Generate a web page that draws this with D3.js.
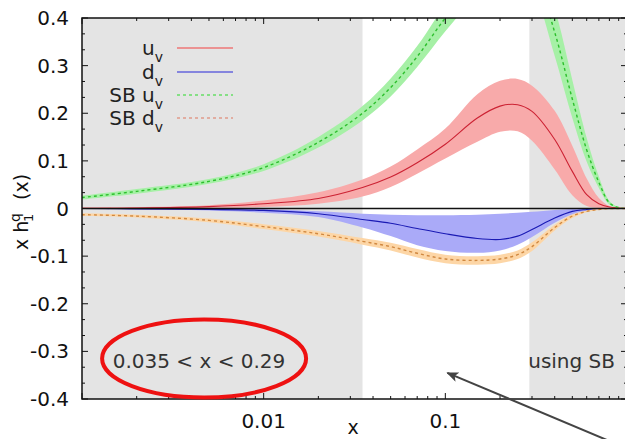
<!DOCTYPE html>
<html>
<head>
<meta charset="utf-8">
<script src="https://cdn.jsdelivr.net/npm/d3@7/dist/d3.min.js"></script>
<style>
  body { margin: 0; background: #fff; }
  svg { display: block; font-family: "DejaVu Sans", sans-serif; }
</style>
</head>
<body>
<div id="canvas"></div>
<script>
// x grid shared by all curves
const xs    = [0.001, 0.002, 0.005, 0.01, 0.02, 0.035, 0.05, 0.07, 0.1, 0.15, 0.2, 0.25, 0.3, 0.4, 0.5, 0.6, 0.7, 0.8, 0.9, 1.0];

// u_v (red)
const uv    = [0.0005, 0.001, 0.004, 0.010, 0.021, 0.044, 0.066, 0.096, 0.135, 0.190, 0.215, 0.218, 0.204, 0.145, 0.078, 0.029, 0.010, 0.003, 0.001, 0];
const uvLo  = [-0.001, 0.000, 0.001, 0.003, 0.010, 0.025, 0.045, 0.073, 0.105, 0.140, 0.161, 0.162, 0.142, 0.082, 0.028, 0.005, 0.001, 0, 0, 0];
const uvHi  = [0.002, 0.003, 0.007, 0.017, 0.034, 0.061, 0.088, 0.124, 0.168, 0.240, 0.268, 0.272, 0.258, 0.205, 0.132, 0.063, 0.022, 0.005, 0.001, 0];

// d_v (blue)
const dv    = [0, -0.001, -0.002, -0.004, -0.011, -0.023, -0.031, -0.042, -0.053, -0.063, -0.065, -0.058, -0.044, -0.020, -0.006, -0.002, 0, 0, 0, 0];
const dvLo  = [-0.001, -0.002, -0.004, -0.009, -0.018, -0.040, -0.058, -0.077, -0.089, -0.093, -0.088, -0.076, -0.060, -0.030, -0.012, -0.004, -0.001, 0, 0, 0];
const dvHi  = [0.0005, 0, -0.0005, -0.001, -0.006, -0.011, -0.013, -0.014, -0.014, -0.013, -0.011, -0.009, -0.007, -0.003, -0.001, 0, 0, 0, 0, 0];

// SB u_v (green)
const sbu   = [0.023, 0.036, 0.057, 0.086, 0.139, 0.200, 0.254, 0.319, 0.400, 0.480, 0.530, 0.540, 0.510, 0.370, 0.230, 0.123, 0.055, 0.012, 0.002, 0];
const sbuLo = [0.019, 0.031, 0.052, 0.079, 0.128, 0.185, 0.235, 0.297, 0.372, 0.450, 0.500, 0.510, 0.470, 0.320, 0.190, 0.098, 0.043, 0.008, 0.001, 0];
const sbuHi = [0.027, 0.041, 0.062, 0.093, 0.150, 0.215, 0.273, 0.341, 0.428, 0.510, 0.560, 0.570, 0.550, 0.420, 0.270, 0.148, 0.067, 0.016, 0.003, 0];

// SB d_v (orange)
const sbd   = [-0.013, -0.016, -0.025, -0.038, -0.053, -0.069, -0.080, -0.094, -0.106, -0.109, -0.106, -0.097, -0.080, -0.040, -0.016, -0.006, -0.002, 0, 0, 0];
const sbdLo = [-0.016, -0.019, -0.029, -0.043, -0.059, -0.076, -0.088, -0.103, -0.115, -0.118, -0.115, -0.106, -0.089, -0.046, -0.020, -0.008, -0.003, -0.001, 0, 0];
const sbdHi = [-0.010, -0.013, -0.021, -0.033, -0.047, -0.062, -0.072, -0.085, -0.097, -0.100, -0.097, -0.088, -0.071, -0.034, -0.012, -0.004, -0.001, 0, 0, 0];

const xTickVals = [0.01, 0.1];
const xTickLabels = ["0.01", "0.1"];
const yTickVals = [-0.4, -0.3, -0.2, -0.1, 0, 0.1, 0.2, 0.3, 0.4];
const yTickLabels = ["-0.4", "-0.3", "-0.2", "-0.1", "0", "0.1", "0.2", "0.3", "0.4"];
const whiteRange = [0.035, 0.29];

const w = 625, h = 439;

let svg = d3.select("#canvas")
            .append("svg")
                .attr("width", w)
                .attr("height", h)
                .attr("viewBox", [0, 0, w, h]);

const x = d3.scaleLog().domain([0.001, 1]).range([82, 627]);
const y = d3.scaleLinear().domain([-0.4, 0.4]).range([399, 18]);

svg.append("clipPath").attr("id", "plotclip")
    .append("rect")
        .attr("x", x.range()[0]).attr("y", y.range()[1])
        .attr("width", x.range()[1] - x.range()[0])
        .attr("height", y.range()[0] - y.range()[1]);

// grey background with white window
svg.append("rect")
    .attr("x", x.range()[0]).attr("y", y.range()[1])
    .attr("width", x.range()[1] - x.range()[0])
    .attr("height", y.range()[0] - y.range()[1])
    .attr("fill", "#e4e4e4");
svg.append("rect")
    .attr("x", x(whiteRange[0])).attr("y", y.range()[1])
    .attr("width", x(whiteRange[1]) - x(whiteRange[0]))
    .attr("height", y.range()[0] - y.range()[1])
    .attr("fill", "#fff");

const idx = d3.range(xs.length);
const g = svg.append("g").attr("clip-path", "url(#plotclip)");
const smooth = d3.curveCatmullRom.alpha(0.5);

function band(lo, hi, color) {
    const area = d3.area()
        .x(i => x(xs[i]))
        .y0(i => y(lo[i]))
        .y1(i => y(hi[i]))
        .curve(smooth);
    g.append("path").datum(idx).attr("d", area).attr("fill", color);
}
function curve(vals, color, width, dash) {
    const line = d3.line()
        .x(i => x(xs[i]))
        .y(i => y(vals[i]))
        .curve(smooth);
    g.append("path").datum(idx).attr("d", line)
        .attr("fill", "none")
        .attr("stroke", color)
        .attr("stroke-width", width)
        .attr("stroke-dasharray", dash);
}

band(sbuLo, sbuHi, "#a6f0a6");
band(sbdLo, sbdHi, "#fdd6a6");
band(dvLo, dvHi, "#aaaaf8");
band(uvLo, uvHi, "#f8aaaa");

curve(uv, "#cc2233", 1.1, null);
curve(dv, "#1a1ab4", 1.1, null);
curve(sbu, "#2cbf2c", 1.4, "3,3");
curve(sbd, "#d08840", 1.4, "3,3");

// zero line
g.append("line")
    .attr("x1", x.range()[0]).attr("x2", x.range()[1])
    .attr("y1", y(0)).attr("y2", y(0))
    .attr("stroke", "#111").attr("stroke-width", 1.5);

// ticks (inward, all four sides)
const logMinor = [];
for (let d = 0.001; d < 1; d *= 10)
    for (let k = 2; k <= 9; k++) logMinor.push(d * k);
const yMinor = d3.range(-0.4, 0.4, 0.1 / 3).map(v => +v.toFixed(4))
                 .filter(v => !yTickVals.some(t => Math.abs(t - v) < 1e-6));

const ticks = svg.append("g").attr("stroke", "#111").attr("stroke-width", 1);
[y.range()[0], y.range()[1]].forEach((yy, s) => {
    const dir = s === 0 ? -1 : 1;
    ticks.selectAll(null).data([0.001, 0.01, 0.1, 1]).enter().append("line")
        .attr("x1", d => x(d)).attr("x2", d => x(d))
        .attr("y1", yy).attr("y2", yy + dir * 6);
    ticks.selectAll(null).data(logMinor).enter().append("line")
        .attr("x1", d => x(d)).attr("x2", d => x(d))
        .attr("y1", yy).attr("y2", yy + dir * 3);
});
[x.range()[0], x.range()[1]].forEach((xx, s) => {
    const dir = s === 0 ? 1 : -1;
    ticks.selectAll(null).data(yTickVals).enter().append("line")
        .attr("y1", d => y(d)).attr("y2", d => y(d))
        .attr("x1", xx).attr("x2", xx + dir * 6);
    ticks.selectAll(null).data(yMinor).enter().append("line")
        .attr("y1", d => y(d)).attr("y2", d => y(d))
        .attr("x1", xx).attr("x2", xx + dir * 3);
});

// frame
svg.append("rect")
    .attr("x", x.range()[0]).attr("y", y.range()[1])
    .attr("width", x.range()[1] - x.range()[0])
    .attr("height", y.range()[0] - y.range()[1])
    .attr("fill", "none").attr("stroke", "#111").attr("stroke-width", 1.5);

// tick labels
svg.append("g").selectAll("text").data(yTickVals).enter().append("text")
    .attr("x", 69).attr("y", d => y(d) + 7)
    .attr("text-anchor", "end").attr("font-size", 20).attr("fill", "#111")
    .text((d, i) => yTickLabels[i]);
svg.append("g").selectAll("text").data(xTickVals).enter().append("text")
    .attr("x", d => x(d)).attr("y", 428)
    .attr("text-anchor", "middle").attr("font-size", 20).attr("fill", "#111")
    .text((d, i) => xTickLabels[i]);

// axis titles
svg.append("text").attr("x", 353).attr("y", 434)
    .attr("text-anchor", "middle").attr("font-size", 19).attr("fill", "#111").text("x");
const yl = svg.append("g").attr("transform", "translate(28,250) rotate(-90)")
    .attr("fill", "#111");
yl.append("text").attr("x", 0).attr("y", 0).attr("font-size", 19).text("x h");
yl.append("text").attr("x", 28).attr("y", -8).attr("font-size", 14).text("q");
yl.append("text").attr("x", 28).attr("y", 5).attr("font-size", 13).text("1");
yl.append("text").attr("x", 50).attr("y", 0).attr("font-size", 19).text("(x)");

// legend
const legNames = ["u", "d", "SB u", "SB d"];
const legColors = ["#ee7777", "#6666dd", "#66dd66", "#e09a8a"];
const legDash = [null, null, "3,3", "3,3"];
const legY = [48, 72, 95, 118];
const leg = svg.append("g");
legNames.forEach((n, i) => {
    const t = leg.append("text").attr("x", 163).attr("y", legY[i] + 7)
        .attr("text-anchor", "end").attr("font-size", 20).attr("fill", "#222");
    t.append("tspan").text(n);
    t.append("tspan").attr("font-size", 14).attr("dy", 7).text("v");
    leg.append("line")
        .attr("x1", 177).attr("x2", 233)
        .attr("y1", legY[i]).attr("y2", legY[i])
        .attr("stroke", legColors[i]).attr("stroke-width", 1.5)
        .attr("stroke-dasharray", legDash[i]);
});

// annotations
svg.append("text").attr("x", 199).attr("y", 368)
    .attr("text-anchor", "middle").attr("font-size", 20).attr("fill", "#333")
    .text("0.035 < x < 0.29");
svg.append("ellipse")
    .attr("cx", x(0.0047)).attr("cy", y(-0.315))
    .attr("rx", 102).attr("ry", 39)
    .attr("fill", "none").attr("stroke", "#ee1111").attr("stroke-width", 4);
svg.append("text").attr("x", 615).attr("y", 368)
    .attr("text-anchor", "end").attr("font-size", 20).attr("fill", "#333")
    .text("using SB");

svg.append("defs").append("marker")
    .attr("id", "arrow").attr("viewBox", "0 0 12 10")
    .attr("refX", 11).attr("refY", 5)
    .attr("markerWidth", 12).attr("markerHeight", 10)
    .attr("markerUnits", "userSpaceOnUse")
    .attr("orient", "auto")
    .append("path").attr("d", "M0,0 L12,5 L0,10 L3,5 Z").attr("fill", "#444");
svg.append("line")
    .attr("x1", x(0.82)).attr("y1", y(-0.49))
    .attr("x2", x(0.1) + 2).attr("y2", y(-0.345))
    .attr("stroke", "#444").attr("stroke-width", 2)
    .attr("marker-end", "url(#arrow)");
</script>
</body>
</html>
